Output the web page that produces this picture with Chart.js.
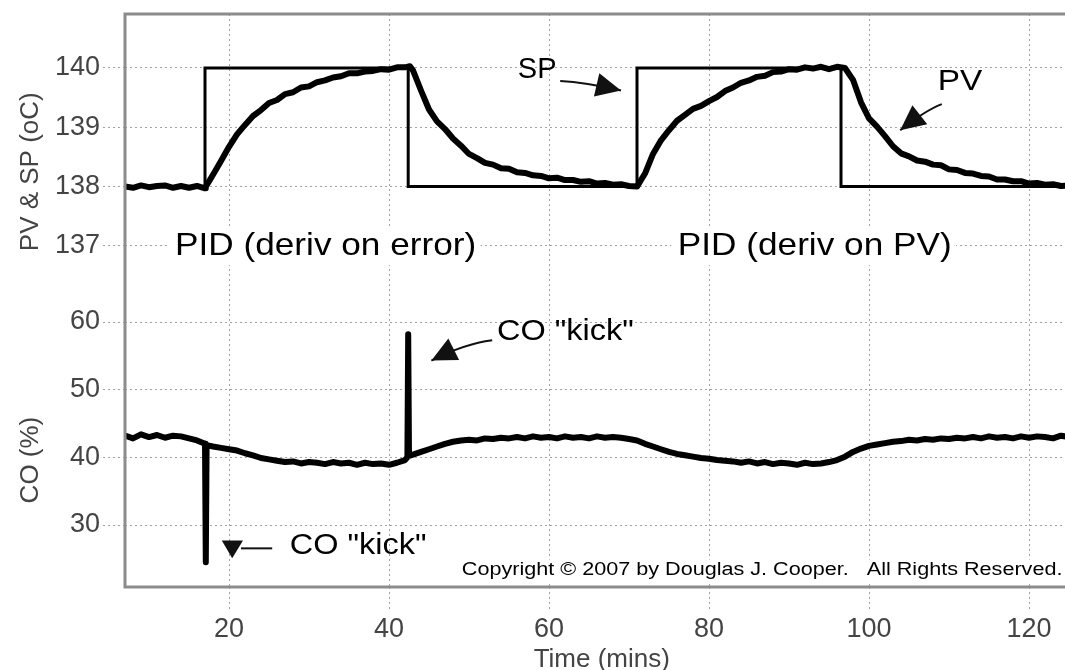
<!DOCTYPE html>
<html>
<head>
<meta charset="utf-8">
<script src="https://cdn.jsdelivr.net/npm/chart.js@4.4.1/dist/chart.umd.min.js"></script>
<style>
  html, body { margin: 0; padding: 0; background: #fff; }
  #wrap { width: 1065px; height: 670px; position: relative; }
</style>
</head>
<body>
<div id="wrap"><canvas id="chart"></canvas></div>
<script>
/* データ */
const spTimes  = [7, 17, 17, 42.4, 42.4, 71, 71, 96.5, 96.5, 125];
const spValues = [138, 138, 140, 140, 138, 138, 140, 140, 138, 138];

const pvTimes = [
  7, 8, 9, 10, 11, 12, 13, 14, 15, 16, 17, 17.1, 18, 19, 20, 21, 22, 23, 24, 25,
  26, 27, 28, 29, 30, 31, 32, 33, 34, 35, 36, 37, 38, 39, 40, 41, 42, 42.6, 43, 44,
  45, 46, 47, 48, 49, 50, 51, 52, 53, 54, 55, 56, 57, 58, 59, 60, 61, 62, 63, 64,
  65, 66, 67, 68, 69, 70, 71, 72, 73, 74, 75, 76, 77, 78, 79, 80, 81, 82, 83, 84,
  85, 86, 87, 88, 89, 90, 91, 92, 93, 94, 95, 96, 97, 98, 99, 100, 101, 102, 103, 104,
  105, 106, 107, 108, 109, 110, 111, 112, 113, 114, 115, 116, 117, 118, 119, 120, 121, 122, 123, 124, 125
];
const pvValues = [
  138.00, 137.98, 138.02, 137.99, 138.01, 138.02, 137.98, 138.01, 137.98, 138.01, 137.97, 138.00, 138.20, 138.43, 138.67, 138.88, 139.04, 139.19, 139.29, 139.41,
  139.46, 139.56, 139.59, 139.67, 139.69, 139.76, 139.79, 139.84, 139.86, 139.91, 139.91, 139.94, 139.95, 139.98, 139.97, 140.01, 140.01, 140.03, 139.96, 139.62,
  139.30, 139.10, 138.97, 138.81, 138.69, 138.55, 138.48, 138.40, 138.37, 138.31, 138.30, 138.24, 138.23, 138.19, 138.18, 138.14, 138.15, 138.11, 138.11, 138.08,
  138.09, 138.05, 138.06, 138.03, 138.04, 138.01, 138.00, 138.22, 138.55, 138.78, 138.95, 139.11, 139.21, 139.31, 139.36, 139.44, 139.51, 139.61, 139.67, 139.75,
  139.79, 139.85, 139.87, 139.93, 139.94, 139.98, 139.97, 140.01, 139.99, 140.02, 139.98, 140.02, 140.00, 139.80, 139.42, 139.15, 139.01, 138.85, 138.68, 138.56,
  138.51, 138.44, 138.42, 138.37, 138.36, 138.29, 138.28, 138.23, 138.22, 138.18, 138.17, 138.12, 138.12, 138.09, 138.09, 138.05, 138.06, 138.03, 138.04, 138.01, 138.02
];

const coTimes = [
  7, 8, 9, 10, 11, 12, 13, 14, 15, 16, 17, 17.1, 17.2, 18, 19, 20, 21, 22, 23, 24,
  25, 26, 27, 28, 29, 30, 31, 32, 33, 34, 35, 36, 37, 38, 39, 40, 41, 42, 42.3, 42.4,
  42.5, 43, 44, 45, 46, 47, 48, 49, 50, 51, 52, 53, 54, 55, 56, 57, 58, 59, 60, 61,
  62, 63, 64, 65, 66, 67, 68, 69, 70, 71, 72, 73, 74, 75, 76, 77, 78, 79, 80, 81,
  82, 83, 84, 85, 86, 87, 88, 89, 90, 91, 92, 93, 94, 95, 96, 97, 98, 99, 100, 101,
  102, 103, 104, 105, 106, 107, 108, 109, 110, 111, 112, 113, 114, 115, 116, 117, 118, 119, 120, 121,
  122, 123, 124, 125
];
const coValues = [
  43.2, 42.8, 43.4, 43.0, 43.3, 42.9, 43.2, 43.1, 42.8, 42.5, 42.0, 24.5, 41.8, 41.6, 41.4, 41.2, 41.0, 40.6, 40.3, 39.9,
  39.7, 39.5, 39.3, 39.4, 39.1, 39.3, 39.2, 39.0, 39.3, 39.1, 39.2, 38.9, 39.2, 39.0, 39.1, 38.9, 39.2, 39.6, 40.0, 58.2,
  40.2, 40.4, 40.8, 41.2, 41.6, 42.0, 42.3, 42.5, 42.6, 42.5, 42.8, 42.7, 42.9, 42.8, 43.0, 42.8, 43.1, 42.9, 43.0, 42.8,
  43.1, 42.9, 43.0, 42.8, 43.1, 42.9, 43.0, 42.9, 42.7, 42.5, 42.0, 41.6, 41.2, 40.8, 40.5, 40.3, 40.1, 39.9, 39.8, 39.6,
  39.5, 39.4, 39.2, 39.4, 39.1, 39.3, 39.0, 39.2, 39.1, 38.9, 39.2, 39.0, 39.1, 39.3, 39.6, 40.1, 40.8, 41.3, 41.7, 41.9,
  42.1, 42.3, 42.4, 42.6, 42.5, 42.7, 42.6, 42.8, 42.7, 42.9, 42.8, 43.0, 42.8, 43.1, 42.9, 43.0, 42.8, 43.1, 42.9, 43.1,
  43.0, 42.8, 43.2, 43.0
];

const timeTicks = [20, 40, 60, 80, 100, 120];
const tempTicks = [137, 138, 139, 140];
const coTicks   = [30, 40, 50, 60];


/* 注記 (データ座標) */
const texts = [
  { text: "PID (deriv on error)", t: 13.25, v: 137, axis: "yTop", size: 32, sx: 1.1, bg: true },
  { text: "PID (deriv on PV)",    t: 76.1,  v: 137, axis: "yTop", size: 32, sx: 1.1, bg: true },
  { text: "SP",                   t: 56.1,  v: 139.97, axis: "yTop", size: 29, sx: 1.0 },
  { text: "PV",                   t: 108.6, v: 139.76, axis: "yTop", size: 29, sx: 1.15 },
  { text: "CO \"kick\"",          t: 53.5,  v: 58.5, axis: "yBot", size: 29, sx: 1.12 },
  { text: "CO \"kick\"",          t: 27.6,  v: 26.85, axis: "yBot", size: 29, sx: 1.12 },
  { text: "Copyright \u00A9 2007 by Douglas J. Cooper.   All Rights Reserved.", t: 49.1, v: 23.3, axis: "yBot", size: 18, sx: 1.2, bg: true }
];

const arrows = [
  { axis: "yTop", from: [61.4, 139.78], ctrl: [64.5, 139.76], to: [69.0, 139.62] },
  { axis: "yTop", from: [109.1, 139.39], ctrl: [107.0, 139.28], to: [103.9, 138.95] },
  { axis: "yBot", from: [52.9, 57.3], ctrl: [49.5, 56.8], to: [45.3, 54.3] }
];


/* 初期化 */
document.addEventListener("DOMContentLoaded", () => {
  drawChart();
});


function toPoints(xs, ys) {
  return xs.map((x, i) => ({ x: x, y: ys[i] }));
}


/* 目盛を固定 */
function fixedTicks(values) {
  return axis => {
    axis.ticks = values.map(v => ({ value: v }));
  };
}


/* 矢印 */
function drawArrow(ctx, p0, pc, p1) {
  ctx.beginPath();
  ctx.moveTo(p0[0], p0[1]);
  ctx.quadraticCurveTo(pc[0], pc[1], p1[0], p1[1]);
  ctx.stroke();

  const ang = Math.atan2(p1[1] - pc[1], p1[0] - pc[0]);
  const len = 25, half = 12;
  ctx.beginPath();
  ctx.moveTo(p1[0], p1[1]);
  ctx.lineTo(p1[0] - len * Math.cos(ang) + half * Math.sin(ang), p1[1] - len * Math.sin(ang) - half * Math.cos(ang));
  ctx.lineTo(p1[0] - len * Math.cos(ang) - half * Math.sin(ang), p1[1] - len * Math.sin(ang) + half * Math.cos(ang));
  ctx.closePath();
  ctx.fill();
}


/* 注記プラグイン */
const notesPlugin = {
  id: "notes",

  beforeDatasetsDraw(chart) {
    const ctx = chart.ctx;
    const xs = chart.scales.x;

    texts.forEach(l => {
      const px = xs.getPixelForValue(l.t);
      const py = chart.scales[l.axis].getPixelForValue(l.v);

      ctx.save();
      ctx.translate(px, py);
      ctx.scale(l.sx, 1);
      ctx.font = l.size + "px 'Liberation Sans', Arial, sans-serif";
      ctx.textAlign = "left";
      ctx.textBaseline = "middle";

      if (l.bg) {
        const w = ctx.measureText(l.text).width;
        ctx.fillStyle = "#fff";
        ctx.fillRect(-6, -l.size * 0.6, w + 10, l.size * 1.2);
      }

      ctx.fillStyle = "#000";
      ctx.fillText(l.text, 0, 0);
      ctx.restore();
    });
  },

  afterDraw(chart) {
    const ctx = chart.ctx;
    const xs = chart.scales.x;
    const a = chart.chartArea;

    ctx.save();
    ctx.strokeStyle = "#111";
    ctx.fillStyle = "#111";
    ctx.lineWidth = 2;

    arrows.forEach(ar => {
      const ys = chart.scales[ar.axis];
      const p = q => [xs.getPixelForValue(q[0]), ys.getPixelForValue(q[1])];
      drawArrow(ctx, p(ar.from), p(ar.ctrl), p(ar.to));
    });

    // 下の "kick" の矢印 (▼ と線)
    const yb = chart.scales.yBot;
    ctx.beginPath();
    ctx.moveTo(xs.getPixelForValue(25.4), yb.getPixelForValue(26.55));
    ctx.lineTo(xs.getPixelForValue(21.5), yb.getPixelForValue(26.55));
    ctx.stroke();
    ctx.beginPath();
    ctx.moveTo(xs.getPixelForValue(19.1), yb.getPixelForValue(27.7));
    ctx.lineTo(xs.getPixelForValue(21.75), yb.getPixelForValue(27.7));
    ctx.lineTo(xs.getPixelForValue(20.4), yb.getPixelForValue(25.1));
    ctx.closePath();
    ctx.fill();

    // 枠
    ctx.strokeStyle = "#8c8c8c";
    ctx.lineWidth = 3;
    ctx.beginPath();
    ctx.moveTo(a.right + 5, a.top);
    ctx.lineTo(a.left, a.top);
    ctx.lineTo(a.left, a.bottom);
    ctx.lineTo(a.right + 5, a.bottom);
    ctx.stroke();

    // 軸タイトル
    ctx.fillStyle = "#444";
    ctx.font = "26px 'Liberation Sans', Arial, sans-serif";
    ctx.textAlign = "center";
    ctx.textBaseline = "middle";

    ctx.fillText("Time (mins)", xs.getPixelForValue(66.6), a.bottom + 73);

    [["PV & SP (oC)", chart.scales.yTop.getPixelForValue(138.25)],
     ["CO (%)", yb.getPixelForValue(39.6)]].forEach(([t, y]) => {
      ctx.save();
      ctx.translate(31, y);
      ctx.rotate(-Math.PI / 2);
      ctx.fillText(t, 0, 0);
      ctx.restore();
    });

    ctx.restore();
  }
};


/* グラフ */
function drawChart() {

  const tickFont = { family: "'Liberation Sans', Arial, sans-serif", size: 27 };
  const gridColor = "#a3a3a3";

  const yAxis = (min, max, weight, values) => ({
    type: "linear",
    position: "left",
    stack: "panels",
    stackWeight: weight,
    min: min,
    max: max,
    afterBuildTicks: fixedTicks(values),
    afterFit: ax => {
      ax.width = 125;
      ax.paddingTop = 0;
      ax.paddingBottom = 0;
    },
    ticks: { font: tickFont, color: "#444", padding: 3 },
    grid: { color: gridColor, tickLength: 22, tickBorderDash: [2, 3], tickColor: gridColor },
    border: { display: false, dash: [2, 3] }
  });

  new Chart(document.getElementById("chart"), {
    type: "line",
    data: {
      datasets: [
        { label: "SP", data: toPoints(spTimes, spValues), yAxisID: "yTop",
          borderColor: "#000", borderWidth: 3, pointRadius: 0, tension: 0 },
        { label: "PV", data: toPoints(pvTimes, pvValues), yAxisID: "yTop",
          borderColor: "#000", borderWidth: 6, pointRadius: 0, tension: 0, borderJoinStyle: "round" },
        { label: "CO", data: toPoints(coTimes, coValues), yAxisID: "yBot",
          borderColor: "#000", borderWidth: 6, pointRadius: 0, tension: 0, borderJoinStyle: "round" }
      ]
    },
    options: {
      responsive: true,
      maintainAspectRatio: false,
      animation: false,
      layout: { padding: { top: 14, right: 0, left: 0, bottom: 0 } },
      plugins: { legend: { display: false }, tooltip: { enabled: false } },
      scales: {
        x: {
          type: "linear",
          min: 7,
          max: 124.5,
          afterBuildTicks: fixedTicks(timeTicks),
          afterFit: ax => {
            ax.height = 83;
            ax.paddingLeft = 0;
            ax.paddingRight = 0;
          },
          ticks: { font: tickFont, color: "#444", padding: 4, maxRotation: 0 },
          grid: { color: gridColor, tickLength: 22, tickBorderDash: [2, 3], tickColor: gridColor },
          border: { display: false, dash: [2, 3] }
        },
        yBot: yAxis(20.84, 67.98, 319, coTicks),
        yTop: yAxis(136.627, 140.91, 254, tempTicks)
      }
    },
    plugins: [notesPlugin]
  });
}
</script>
</body>
</html>
